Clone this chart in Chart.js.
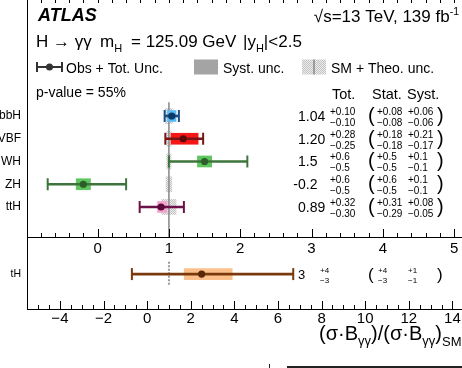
<!DOCTYPE html>
<html>
<head>
<meta charset="utf-8">
<script src="https://cdn.jsdelivr.net/npm/chart.js@4.4.1/dist/chart.umd.min.js"></script>
<style>
  html, body { margin: 0; padding: 0; background: #fff; overflow: hidden; }
  #wrap { position: relative; width: 462px; height: 368px; }
  #upper { position: absolute; left: 0; top: 0; }
  #lower { position: absolute; left: 0; top: 230px; }
</style>
</head>
<body>
<div id="wrap">
  <canvas id="upper" width="462" height="262"></canvas>
  <canvas id="lower" width="462" height="138"></canvas>
</div>
<script>
// ---- measured signal strengths, H -> yy, 139 fb-1 ----
const processes = ['bbH', 'VBF', 'WH', 'ZH', 'ttH'];
const mu        = [1.04, 1.20, 1.5, -0.2, 0.89];
const totUp     = [0.10, 0.28, 0.6, 0.6, 0.32];
const totDown   = [0.10, 0.25, 0.5, 0.5, 0.30];
const statUp    = [0.08, 0.18, 0.5, 0.6, 0.31];
const statDown  = [0.08, 0.18, 0.5, 0.5, 0.29];
const systUp    = [0.06, 0.21, 0.1, 0.1, 0.08];
const systDown  = [0.06, 0.17, 0.1, 0.1, 0.05];
const smTheo    = [0.05, 0.03, 0.03, 0.04, 0.10];
const shownDigits = [2, 2, 1, 1, 2];

const tHName     = ['tH'];
const tHMu       = [2.5];
const tHTotUp    = [4.2];
const tHTotDown  = [3.2];
const tHStatUp   = [3.9];
const tHStatDown = [3.1];
const tHSystUp   = [1.4];
const tHSystDown = [0.8];
const tHDigits   = [0];

const smValue = 1;
const upperTickLabels = [0, 1, 2, 3, 4, 5];
const lowerTickLabels = [-4, -2, 0, 2, 4, 6, 8, 10, 12, 14];

// ---- styles ----
const upperColors = {
  line: ['#1c4f86', '#7a1414', '#3c743c', '#3c743c', '#6c1249'],
  box:  ['#5cbcf2', '#f51616', '#5fc65f', '#5fc65f', '#f5a3cf'],
  dot:  ['#0b3a66', '#5e0808', '#2c5e2c', '#2c5e2c', '#5a0a3a']
};
const lowerColors = { line: ['#7a3a0c'], box: ['#fcc08c'], dot: ['#5a2806'] };

const FONT = '"Liberation Sans", Arimo, Arial, Helvetica, sans-serif';

function hatchPattern() {
  const c = document.createElement('canvas');
  c.width = 2; c.height = 2;
  const g = c.getContext('2d');
  g.fillStyle = '#ededed'; g.fillRect(0, 0, 2, 2);
  g.fillStyle = '#c2c2c2'; g.fillRect(0, 0, 1, 1); g.fillRect(1, 1, 1, 1);
  return g.createPattern(c, 'repeat');
}
const HATCH = hatchPattern();

function setFont(ctx, size, style) {
  ctx.font = (style || '') + ' ' + size + 'px ' + FONT;
}
function txt(ctx, s, x, y, size, o) {
  o = o || {};
  setFont(ctx, size, o.style);
  ctx.fillStyle = o.color || '#000';
  ctx.textAlign = o.align || 'left';
  ctx.textBaseline = 'alphabetic';
  ctx.fillText(s, x, y);
  return ctx.measureText(s).width;
}
// text runs drawn left to right, each optionally raised/lowered
function runs(ctx, x, y, parts) {
  let cx = x;
  parts.forEach(p => { cx += txt(ctx, p.t, cx, y + (p.dy || 0), p.size, p); });
  return cx;
}
function runsWidth(ctx, parts) {
  return parts.reduce((w, p) => { setFont(ctx, p.size, p.style); return w + ctx.measureText(p.t).width; }, 0);
}
const near = (a, list) => list.some(v => Math.abs(v - a) < 1e-6);
const fmtTick = v => (v < 0 ? '\u2212' + Math.abs(v) : String(v));

// scales keep their boxes exactly as fitted (no extra label overhang)
function fixBox(prop, size) {
  return s => {
    s[prop] = size;
    s.paddingTop = s.paddingBottom = s.paddingLeft = s.paddingRight = 0;
  };
}

function inwardTicks(ctx, scale, y, dir, lenOf) {
  ctx.save();
  ctx.strokeStyle = '#000';
  ctx.lineWidth = 1;
  scale.ticks.forEach(t => {
    const px = Math.round(scale.getPixelForValue(t.value)) + 0.5;
    ctx.beginPath();
    ctx.moveTo(px, y);
    ctx.lineTo(px, y + dir * lenOf(t.value));
    ctx.stroke();
  });
  ctx.restore();
}

// value column: central value, total up/down, then (stat, syst)
function valueColumn(ctx, yc, v, d, tu, td, su, sd, yu, yd, sizes) {
  const main = v.toFixed(d);
  setFont(ctx, sizes.main);
  const xMain = v < 0 ? 298 - ctx.measureText('-').width : 298;
  txt(ctx, main, xMain, yc + 5, sizes.main);
  const sup = yc + sizes.supDy, sub = yc + sizes.subDy;
  txt(ctx, '+' + tu.toFixed(d), sizes.totX, sup, sizes.small);
  txt(ctx, '\u2212' + td.toFixed(d), sizes.totX, sub, sizes.small);
  txt(ctx, '(', 368, yc + 6, sizes.paren);
  txt(ctx, '+' + su.toFixed(d), sizes.statX, sup, sizes.small);
  txt(ctx, '\u2212' + sd.toFixed(d), sizes.statX, sub, sizes.small);
  txt(ctx, '+' + yu.toFixed(d), 408, sup, sizes.small);
  txt(ctx, '\u2212' + yd.toFixed(d), 408, sub, sizes.small);
  txt(ctx, ')', 437, yc + 6, sizes.paren);
}

function panelDatasets(vals, up, down, sUp, sDown, theo, colors, capR) {
  const rows = vals.map((_, i) => i);
  return [
    { type: 'scatter', data: rows.map(i => ({ x: vals[i], y: i })),
      pointRadius: 3.6, pointBackgroundColor: colors.dot, pointBorderColor: colors.dot,
      pointBorderWidth: 0, order: 0 },
    { type: 'scatter',
      data: rows.map(i => ({ x: vals[i] - down[i], y: i })).concat(rows.map(i => ({ x: vals[i] + up[i], y: i }))),
      pointStyle: 'line', pointRotation: 90, pointRadius: capR, pointBorderWidth: 2,
      pointBorderColor: colors.line.concat(colors.line), order: 1 },
    { type: 'bar', indexAxis: 'y', grouped: false,
      data: rows.map(i => ({ y: i, x: [vals[i] - down[i], vals[i] + up[i]] })),
      barThickness: 2, backgroundColor: colors.line, order: 2 },
    { type: 'bar', indexAxis: 'y', grouped: false,
      data: rows.map(i => ({ y: i, x: [vals[i] - sDown[i], vals[i] + sUp[i]] })),
      barThickness: 11, backgroundColor: colors.box, order: 3 },
    ...(theo ? [{ type: 'bar', indexAxis: 'y', grouped: false,
      data: rows.map(i => ({ y: i, x: [smValue - theo[i], smValue + theo[i]] })),
      barThickness: 15, backgroundColor: HATCH, order: 6 }] : [])
  ];
}

const common = {
  responsive: false,
  animation: false,
  events: [],
  plugins: { legend: { display: false }, tooltip: { enabled: false } }
};

// ---- upper panel ----
const upperYMin = -5.1, upperYMax = 5.32;
const upperHeader = {
  id: 'upperHeader',
  afterDraw(chart) {
    const { ctx, chartArea } = chart;
    const x = chart.scales.x, y = chart.scales.y;
    inwardTicks(ctx, x, chartArea.bottom, -1, v => (near(v, upperTickLabels) ? 8 : 4));
    inwardTicks(ctx, x, chartArea.top, 1, v => 3);

    txt(ctx, 'ATLAS', 38, 21, 18, { style: 'italic bold' });
    const lumi = [{ t: '\u221As=13 TeV, 139 fb', size: 17 }, { t: '-1', size: 10.5, dy: -7 }];
    runs(ctx, 459 - runsWidth(ctx, lumi), 21.5, lumi);

    txt(ctx, 'H \u2192 \u03B3\u03B3', 36, 46.5, 17);
    runs(ctx, 100, 46.5, [{ t: 'm', size: 17 }, { t: 'H', size: 11, dy: 5 }]);
    txt(ctx, '= 125.09 GeV', 131, 46.5, 17);
    runs(ctx, 243, 46.5, [{ t: '|y', size: 17 }, { t: 'H', size: 11, dy: 5 }, { t: '|<2.5', size: 17 }]);

    // legend
    const ly = 67;
    ctx.save();
    ctx.strokeStyle = '#333'; ctx.fillStyle = '#333'; ctx.lineWidth = 2;
    ctx.beginPath();
    ctx.moveTo(37, ly); ctx.lineTo(62, ly);
    ctx.moveTo(37, ly - 5); ctx.lineTo(37, ly + 5);
    ctx.moveTo(62, ly - 5); ctx.lineTo(62, ly + 5);
    ctx.stroke();
    ctx.beginPath(); ctx.arc(49.5, ly, 3.5, 0, Math.PI * 2); ctx.fill();
    ctx.fillStyle = '#a4a4a4'; ctx.fillRect(194, ly - 7.5, 24, 15);
    ctx.fillStyle = HATCH; ctx.fillRect(302, ly - 7.5, 24, 15);
    ctx.strokeStyle = '#888'; ctx.lineWidth = 1.5;
    ctx.beginPath(); ctx.moveTo(314, ly - 7.5); ctx.lineTo(314, ly + 7.5); ctx.stroke();
    ctx.restore();
    txt(ctx, 'Obs + Tot. Unc.', 66, ly + 5.5, 14);
    txt(ctx, 'Syst. unc.', 223, ly + 5.5, 14);
    txt(ctx, 'SM + Theo. unc.', 331, ly + 5.5, 14);

    txt(ctx, 'p-value = 55%', 36, 96.5, 14);
    txt(ctx, 'Tot.', 332, 98.5, 14.5);
    txt(ctx, 'Stat.', 372, 98.5, 14.5);
    txt(ctx, 'Syst.', 407, 98.5, 14.5);

    processes.forEach((p, i) => {
      valueColumn(ctx, y.getPixelForValue(i), mu[i], shownDigits[i], totUp[i], totDown[i],
        statUp[i], statDown[i], systUp[i], systDown[i],
        { main: 14, small: 10, paren: 20, supDy: -1, subDy: 10, totX: 330, statX: 377 });
    });
  }
};

new Chart(document.getElementById('upper'), {
  type: 'scatter',
  data: {
    datasets: [
      ...panelDatasets(mu, totUp, totDown, systUp, systDown, smTheo, upperColors, 6),
      { type: 'line', data: [{ x: smValue, y: -0.6 }, { x: smValue, y: upperYMax }],
        borderColor: '#8e8e8e', borderWidth: 1.6, pointRadius: 0, order: 5 }
    ]
  },
  options: {
    ...common,
    layout: { padding: 0, autoPadding: false },
    scales: {
      x: {
        type: 'linear', position: 'bottom', min: -0.99, max: 5.11, offset: false,
        grid: { display: false, drawTicks: false, offset: false },
        border: { display: true, color: '#000', width: 1 },
        ticks: {
          stepSize: 0.2, autoSkip: false, includeBounds: false, maxRotation: 0, padding: 3,
          color: '#000', font: { family: FONT, size: 15 },
          callback: v => (near(v, upperTickLabels) ? fmtTick(Math.round(v)) : '')
        },
        afterFit: fixBox('height', 25)
      },
      y: {
        type: 'linear', reverse: true, min: upperYMin, max: upperYMax, offset: false,
        grid: { display: false, drawTicks: false, offset: false },
        border: { display: true, color: '#000', width: 1 },
        ticks: { autoSkip: false, padding: 6, color: '#000', font: { family: FONT, size: 12 },
          callback: v => processes[v] },
        afterBuildTicks: s => { s.ticks = processes.map((_, i) => ({ value: i })); },
        afterFit: fixBox('width', 27)
      }
    }
  },
  plugins: [upperHeader]
});

// ---- lower panel (tH) ----
const lowerYMin = -1.03, lowerYMax = 0.97;
const lowerAnnot = {
  id: 'lowerAnnot',
  afterDraw(chart) {
    const { ctx, chartArea } = chart;
    const x = chart.scales.x, y = chart.scales.y;
    inwardTicks(ctx, x, chartArea.bottom, -1, v => (near(v, lowerTickLabels) ? 8 : 4));

    tHName.forEach((p, i) => {
      valueColumn(ctx, y.getPixelForValue(i), tHMu[i], tHDigits[i], tHTotUp[i], tHTotDown[i],
        tHStatUp[i], tHStatDown[i], tHSystUp[i], tHSystDown[i],
        { main: 13, small: 8, paren: 17, supDy: -1, subDy: 9, totX: 320, statX: 378 });
    });

    const title = [
      { t: '(\u03C3\u00B7B', size: 20 }, { t: '\u03B3\u03B3', size: 13, dy: 5 },
      { t: ')/(\u03C3\u00B7B', size: 20 }, { t: '\u03B3\u03B3', size: 13, dy: 5 },
      { t: ')', size: 20 }, { t: 'SM', size: 13, dy: 6 }
    ];
    runs(ctx, 461.5 - runsWidth(ctx, title), 110, title);

    // edge of the neighbouring frame below
    ctx.save();
    ctx.strokeStyle = '#222'; ctx.lineWidth = 2;
    ctx.beginPath(); ctx.moveTo(287, 137); ctx.lineTo(462, 137); ctx.stroke();
    ctx.lineWidth = 1;
    ctx.beginPath(); ctx.moveTo(269.5, 134); ctx.lineTo(269.5, 138); ctx.stroke();
    ctx.restore();
  }
};

new Chart(document.getElementById('lower'), {
  type: 'scatter',
  data: {
    datasets: [
      ...panelDatasets(tHMu, tHTotUp, tHTotDown, tHSystUp, tHSystDown, null, lowerColors, 6),
      { type: 'line', data: [{ x: smValue, y: -0.34 }, { x: smValue, y: 0.32 }],
        borderColor: '#9a9a9a', borderWidth: 2, borderDash: [2, 1.5], pointRadius: 0, order: 5 }
    ]
  },
  options: {
    ...common,
    layout: { padding: { top: 7 }, autoPadding: false },
    scales: {
      x: {
        type: 'linear', position: 'bottom', min: -5.51, max: 14.44, offset: false,
        grid: { display: false, drawTicks: false, offset: false },
        border: { display: true, color: '#000', width: 1 },
        ticks: {
          stepSize: 0.5, autoSkip: false, includeBounds: false, maxRotation: 0, padding: 1,
          color: '#000', font: { family: FONT, size: 15 },
          callback: v => (near(v, lowerTickLabels) ? fmtTick(Math.round(v)) : '')
        },
        afterFit: fixBox('height', 59)
      },
      y: {
        type: 'linear', reverse: true, min: lowerYMin, max: lowerYMax, offset: false,
        grid: { display: false, drawTicks: false, offset: false },
        border: { display: true, color: '#000', width: 1 },
        ticks: { autoSkip: false, padding: 6, color: '#000', font: { family: FONT, size: 10.5 },
          callback: v => tHName[v] },
        afterBuildTicks: s => { s.ticks = tHName.map((_, i) => ({ value: i })); },
        afterFit: fixBox('width', 27)
      }
    }
  },
  plugins: [lowerAnnot]
});
</script>
</body>
</html>
